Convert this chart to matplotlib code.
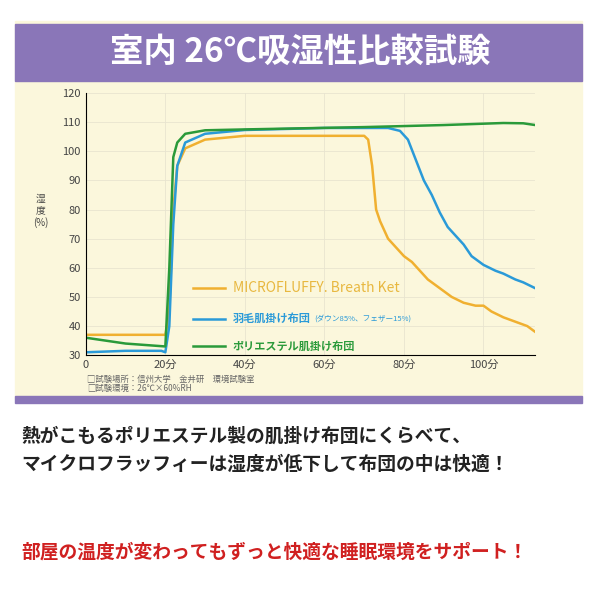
import matplotlib.pyplot as plt
from matplotlib.patches import Rectangle

plt.rcParams['font.family'] = ['Noto Sans CJK JP', 'DejaVu Sans']

ORANGE_T = [0, 20, 21, 22, 23, 25, 30, 40, 70, 71, 72, 73, 74, 76, 78, 80, 82, 84, 86, 88, 90, 92, 95, 98, 100, 102, 105, 108, 111, 113]
ORANGE_H = [37, 37, 45, 80, 95, 101, 104, 105.3, 105.3, 104, 95, 80, 76, 70, 67, 64, 62, 59, 56, 54, 52, 50, 48, 47, 47, 45, 43, 41.5, 40, 38]
BLUE_T = [0, 10, 19, 20, 21, 22, 23, 25, 30, 40, 60, 76, 79, 81, 83, 85, 87, 89, 91, 93, 95, 97, 100, 103, 105, 108, 110, 113]
BLUE_H = [31, 31.5, 31.5, 31, 40, 75, 95, 103, 106, 107.3, 108, 108, 107, 104, 97, 90, 85, 79, 74, 71, 68, 64, 61, 59, 58, 56, 55, 53]
GREEN_T = [0, 10, 20, 21, 22, 23, 25, 30, 40, 70, 90, 105, 110, 113]
GREEN_H = [36, 34, 33, 60, 98, 103, 106, 107.2, 107.5, 108.3, 109, 109.7, 109.6, 109]
X_TICKS = [0, 20, 40, 60, 80, 100]
X_LABELS = ['0', '20分', '40分', '60分', '80分', '100分']

fig = plt.figure(figsize=(6, 6), dpi=100)
fig.add_artist(Rectangle((0.025, 0.335), 0.945, 0.63, transform=fig.transFigure, color='#fbf7dc', zorder=-3))
fig.add_artist(Rectangle((0.025, 0.865), 0.945, 0.095, transform=fig.transFigure, color='#8a76b8', zorder=-2))
fig.add_artist(Rectangle((0.025, 0.328), 0.945, 0.012, transform=fig.transFigure, color='#8a76b8', zorder=-2))
fig.text(0.5, 0.912, '室内 26℃吸湿性比較試験', color='white', fontsize=24, fontweight='bold', ha='center', va='center')

ax = fig.add_axes([0.143, 0.408, 0.749, 0.437])
ax.set_zorder(2)
ax.set_facecolor('none')
ax.plot(ORANGE_T, ORANGE_H, color='#f0b030', lw=1.8)
ax.plot(BLUE_T, BLUE_H, color='#2a9ad8', lw=1.8)
ax.plot(GREEN_T, GREEN_H, color='#2a9a3a', lw=1.8)
ax.set_xlim(0, 113)
ax.set_ylim(30, 120)
ax.set_xticks(X_TICKS, X_LABELS)
ax.set_yticks(range(30, 121, 10))
ax.grid(color='#e8e4d0', lw=0.6)
for s in ['top', 'right']:
    ax.spines[s].set_visible(False)
ax.tick_params(labelsize=8, length=0, colors='#444')
ax.text(-0.1, 0.55, '湿\n度\n(%)', transform=ax.transAxes, fontsize=7, ha='center', va='center', color='#444')

ax.plot([27, 35], [53, 53], color='#f0b030', lw=1.8)
ax.text(37, 53, 'MICROFLUFFY. Breath Ket', color='#e8b840', fontsize=10, va='center')
ax.plot([27, 35], [42.5, 42.5], color='#2a9ad8', lw=1.8)
ax.text(37, 42.5, '羽毛肌掛け布団', color='#2a9ad8', fontsize=8, fontweight='bold', va='center')
ax.text(57.5, 42.5, '(ダウン85%、フェザー15%)', color='#2a9ad8', fontsize=5.5, va='center')
ax.plot([27, 35], [33, 33], color='#2a9a3a', lw=1.8)
ax.text(37, 33, 'ポリエステル肌掛け布団', color='#2a9a3a', fontsize=8, fontweight='bold', va='center')

fig.text(0.145, 0.348, '□試験場所：信州大学　金井研　環境試験室\n□試験環境：26℃×60%RH', fontsize=6, color='#666', linespacing=1.1)
fig.text(0.035, 0.25, '熱がこもるポリエステル製の肌掛け布団にくらべて、\nマイクロフラッフィーは湿度が低下して布団の中は快適！',
         fontsize=13.5, fontweight='bold', color='#222', linespacing=1.6, va='center')
fig.text(0.035, 0.08, '部屋の温度が変わってもずっと快適な睡眠環境をサポート！', fontsize=13.5, fontweight='bold', color='#d02020', va='center')
fig.savefig('out.png')
